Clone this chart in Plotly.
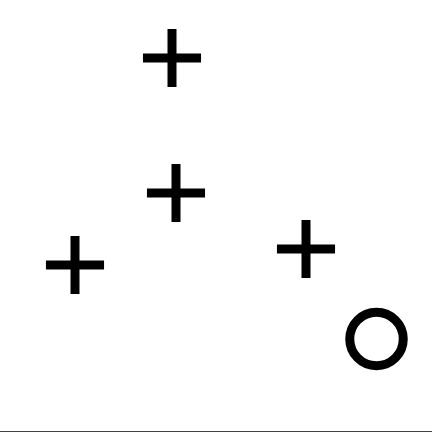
import plotly.graph_objects as go

# data values (arbitrary units)
plus_x = [75, 172, 176, 306]
plus_y = [166, 373, 238, 182]
circle_x = [376.5]
circle_y = [92]

fig = go.Figure()
fig.add_trace(go.Scatter(
    x=plus_x, y=plus_y, mode="markers",
    marker=dict(symbol="cross-thin", size=41.5, color="black",
                line=dict(color="black", width=9)),
    showlegend=False, hoverinfo="skip"))
fig.add_trace(go.Scatter(
    x=circle_x, y=circle_y, mode="markers",
    marker=dict(symbol="circle-open", size=53.5, color="black",
                line=dict(color="black", width=9)),
    showlegend=False, hoverinfo="skip"))

fig.update_layout(
    width=432, height=432,
    margin=dict(l=0, r=0, t=0, b=1),
    paper_bgcolor="white", plot_bgcolor="white",
    xaxis=dict(range=[0, 432], showgrid=False, zeroline=False,
               showticklabels=False, ticks="", showline=True,
               linecolor="#444", linewidth=1),
    yaxis=dict(range=[0, 431], showgrid=False, zeroline=False,
               showticklabels=False, ticks="", showline=False),
)
fig.write_html("out.html",
               config={"displayModeBar": False},
               post_script="document.body.style.margin='0';"
                           "document.body.style.overflow='hidden';")
